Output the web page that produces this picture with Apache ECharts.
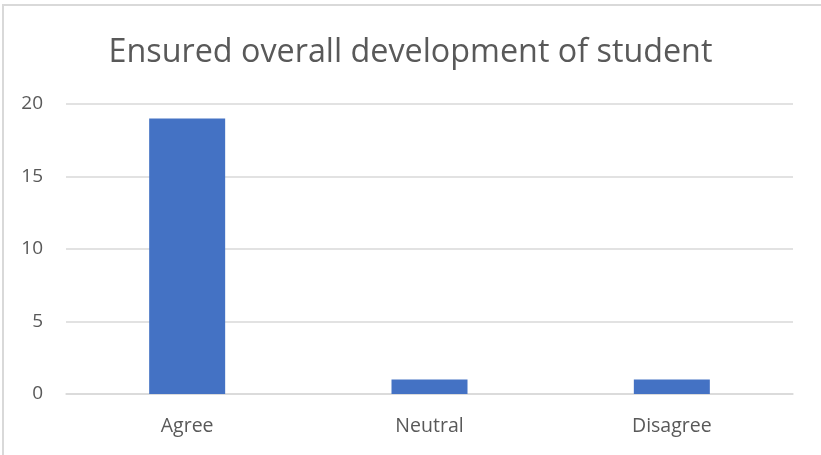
<!DOCTYPE html>
<html>
<head>
<meta charset="utf-8">
<title>Ensured overall development of student</title>
<script src="https://cdn.jsdelivr.net/npm/echarts@6/dist/echarts.min.js"></script>
<style>
body{
margin:0;
background:#fff;
}
#frame{
position:absolute;
left:2px;
top:4px;
width:830px;
height:460px;
border-left:2px solid #d9d9d9;
border-top:2px solid #d9d9d9;
}
#chart{
position:absolute;
left:0;
top:0;
width:821px;
height:455px;
}
</style>
</head>
<body>
<div id="frame"></div>
<div id="chart"></div>
<script>

const title="Ensured overall development of student"
const categories=["Agree","Neutral","Disagree"]
const values=[19,1,1]

const chart=echarts.init(document.getElementById("chart"))

chart.setOption({
animation:false,
title:{
text:title,
left:"center",
top:32,
textStyle:{
fontFamily:"Open Sans",
fontSize:32.3,
fontWeight:"normal",
color:"#595959"
}
},
grid:{left:66,right:28,top:104,bottom:61},
xAxis:{
type:"category",
data:categories,
axisLine:{lineStyle:{color:"#d9d9d9",width:1.5}},
axisTick:{show:false},
axisLabel:{
fontFamily:"Open Sans",
fontSize:19.5,
color:"#595959",
margin:22
}
},
yAxis:{
type:"value",
min:0,
max:20,
interval:5,
axisLine:{show:false},
axisTick:{show:false},
splitLine:{lineStyle:{color:"#d9d9d9",width:1.5}},
axisLabel:{
fontFamily:"Open Sans",
fontSize:19,
color:"#595959",
margin:23
}
},
series:[{
type:"bar",
data:values,
barWidth:76,
itemStyle:{color:"#4472c4"}
}]
})

</script>
</body>
</html>
